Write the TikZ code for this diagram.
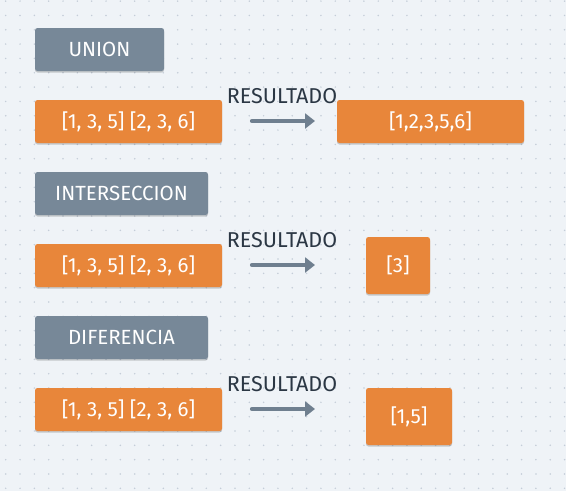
\documentclass[tikz,border=0pt]{standalone}
\usepackage{fontspec}
\setmainfont{Fira Sans}
\usetikzlibrary{shadows,arrows.meta}
\definecolor{bg}{HTML}{EFF3F7}
\definecolor{dotc}{HTML}{C4CDD8}
\definecolor{grayb}{HTML}{778898}
\definecolor{orangeb}{HTML}{E8863A}
\definecolor{txtd}{HTML}{2B3744}
\definecolor{arrc}{HTML}{6F7F8F}
\tikzset{
  box/.style={rounded corners=2.5pt, inner sep=0pt, text=white, font=\fontsize{20.5}{20.5}\selectfont,
    drop shadow={shadow xshift=0pt, shadow yshift=-1.5pt, opacity=0.18, fill=black}},
  graybox/.style={box, fill=grayb},
  orangebox/.style={box, fill=orangeb},
  lbl/.style={text=txtd, font=\fontsize{21.5}{21.5}\selectfont, inner sep=0pt},
  arr/.style={draw=arrc, line width=4.2pt, line cap=round, -{Triangle[length=10pt,width=15pt]}},
}
\begin{document}
\begin{tikzpicture}[x=1pt,y=-1pt]
\fill[bg] (0,0) rectangle (566,491);
\useasboundingbox (0,0) rectangle (566,491);
\foreach \i in {0,...,39}{
  \foreach \j in {0,...,34}{
    \fill[dotc] ({5.7+14.33*\i},{1.1+14.33*\j}) circle (0.85);
  }
}
% row 1
\node[graybox, minimum width=129, minimum height=43] (g1) at (99.5,49.5) {UNION};
\node[orangebox, minimum width=187, minimum height=43] (o1) at (128.5,121.5) {[1, 3, 5] [2, 3, 6]};
\node[lbl] (l1) at (282,96) {RESULTADO};
\coordinate (a1s) at (252,121);
\node[orangebox, minimum width=187, minimum height=43] (r1) at (430.5,121.5) {[1,2,3,5,6]};
\draw[arr] (a1s) -- (a1s -| 315,0);
% row 2
\node[graybox, minimum width=173, minimum height=43] (g2) at (121.5,193.5) {INTERSECCION};
\node[orangebox, minimum width=187, minimum height=43] (o2) at (128.5,265.5) {[1, 3, 5] [2, 3, 6]};
\node[lbl] (l2) at (282,240) {RESULTADO};
\coordinate (a2s) at (252,265);
\node[orangebox, minimum width=64, minimum height=57] (r2) at (398,265.5) {[3]};
\draw[arr] (a2s) -- (a2s -| 315,0);
% row 3
\node[graybox, minimum width=173, minimum height=43] (g3) at (121.5,337.5) {DIFERENCIA};
\node[orangebox, minimum width=187, minimum height=43] (o3) at (128.5,409.5) {[1, 3, 5] [2, 3, 6]};
\node[lbl] (l3) at (282,384) {RESULTADO};
\coordinate (a3s) at (252,409);
\node[orangebox, minimum width=86, minimum height=57] (r3) at (409,416.5) {[1,5]};
\draw[arr] (a3s) -- (a3s -| 315,0);
\end{tikzpicture}
\end{document}
